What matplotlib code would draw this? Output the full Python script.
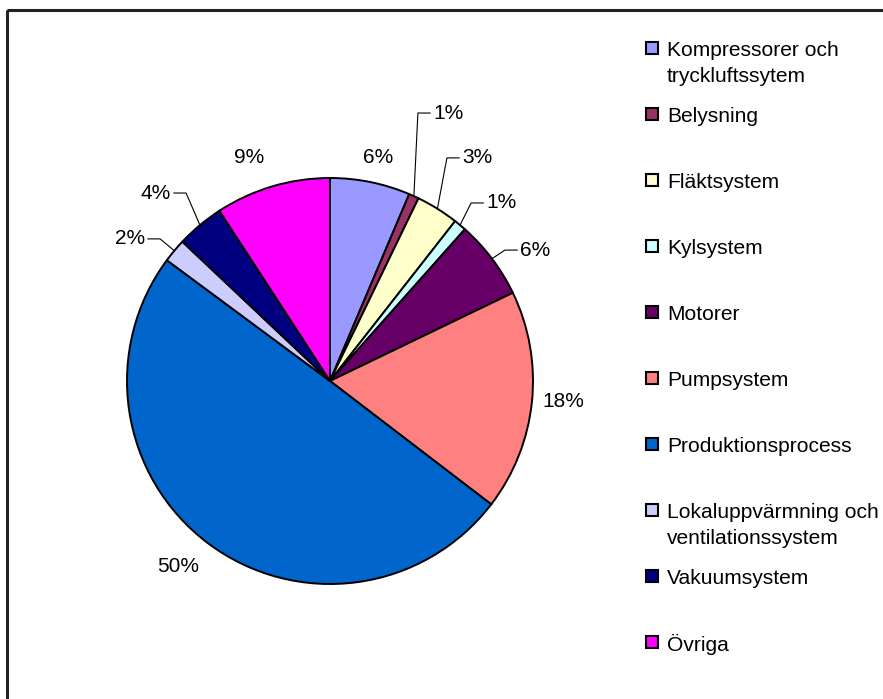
import matplotlib
matplotlib.use('Agg')
from matplotlib import pyplot as plt
from matplotlib.patches import Rectangle
import numpy as np

plt.rcParams['font.family'] = ['Liberation Sans', 'DejaVu Sans']

# Data (share of energy use, %)
categories = ['Kompressorer och\ntryckluftssytem', 'Belysning', 'Fläktsystem',
              'Kylsystem', 'Motorer', 'Pumpsystem', 'Produktionsprocess',
              'Lokaluppvärmning och\nventilationssystem', 'Vakuumsystem', 'Övriga']
shares = [6.4, 0.8, 3.4, 1.0, 6.3, 17.6, 49.9, 1.9, 3.8, 9.2]
colors = ['#9999FF', '#993366', '#FFFFCC', '#CCFFFF', '#660066',
          '#FF8080', '#0066CC', '#CCCCFF', '#000080', '#FF00FF']

# Label layout (radius units). 'leader' entries give the elbow of the leader line,
# the others give the text centre.
label_layout = [
    ('free', (0.236, 1.103)),
    ('leader', (0.433, 1.320)),
    ('leader', (0.576, 1.099)),
    ('leader', (0.695, 0.877)),
    ('leader', (0.862, 0.645)),
    ('free', (1.148, -0.103)),
    ('free', (-0.749, -0.916)),
    ('leader', (-0.837, 0.700)),
    ('leader', (-0.709, 0.926)),
    ('free', (-0.399, 1.099)),
]

W, H = 883, 699
fig = plt.figure(figsize=(W / 100, H / 100), dpi=100, facecolor='white')

# pie axes: centre at (330, 381) px, radius 203 px
R_PX = 203
cx, cy = 330, 381
ax_w, ax_h = 1.6 * R_PX * 2, 1.5 * R_PX * 2
ax = fig.add_axes([(cx - ax_w / 2) / W, (H - cy - ax_h / 2) / H, ax_w / W, ax_h / H])

wedges, _ = ax.pie(shares, colors=colors, startangle=90, counterclock=False,
                   radius=1.0, wedgeprops=dict(edgecolor='black', linewidth=1.4))
# pie() resets the limits, so set them afterwards
ax.set_xlim(-1.6, 1.6)
ax.set_ylim(-1.5, 1.5)
ax.set_aspect('equal')
ax.axis('off')

total = sum(shares)
for w, val, (kind, pos) in zip(wedges, shares, label_layout):
    txt = '%.0f%%' % (val / total * 100)
    if kind == 'free':
        ax.text(pos[0], pos[1], txt, ha='center', va='center', fontsize=15)
    else:
        mid = np.deg2rad((w.theta1 + w.theta2) / 2)
        ex, ey = np.cos(mid), np.sin(mid)
        side = 1 if pos[0] > 0 else -1
        ax.plot([ex, pos[0], pos[0] + side * 0.06], [ey, pos[1], pos[1]],
                color='black', lw=0.8, clip_on=False)
        ax.text(pos[0] + side * 0.075, pos[1], txt, ha='left' if side > 0 else 'right',
                va='center', fontsize=15)

# overlay in pixel coordinates for legend and frame
ov = fig.add_axes([0, 0, 1, 1], facecolor='none')
ov.set_xlim(0, W)
ov.set_ylim(H, 0)
ov.axis('off')

ov.add_patch(Rectangle((7, 10), W + 20, H + 20, fill=False, edgecolor='#222222', lw=2.2))

row0, step, line_h = 48, 66, 27
for i, (name, col) in enumerate(zip(categories, colors)):
    y = row0 + i * step
    ov.add_patch(Rectangle((646, y - 6), 12, 12, facecolor=col, edgecolor='black', lw=1.5))
    for k, line in enumerate(name.split('\n')):
        ov.text(667, y + k * line_h, line, ha='left', va='center_baseline', fontsize=15.1)

fig.savefig('out.png', dpi=100, facecolor='white')
